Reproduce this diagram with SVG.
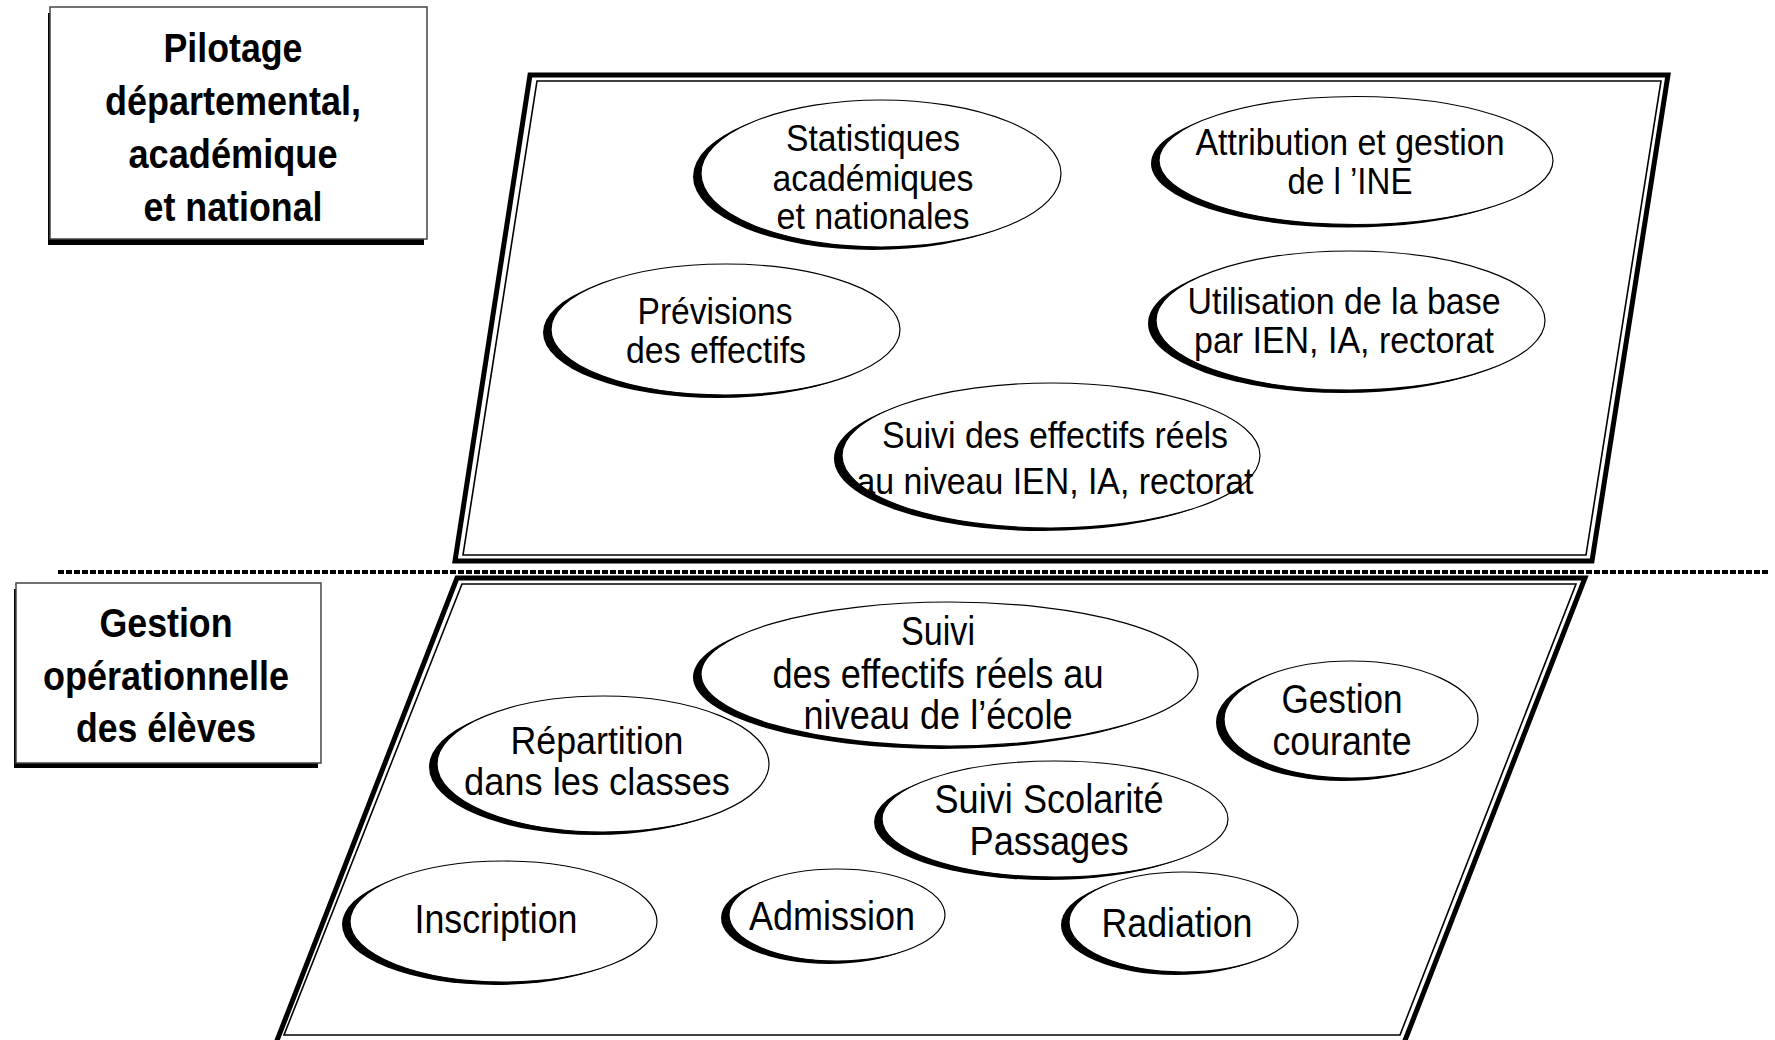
<svg xmlns="http://www.w3.org/2000/svg" width="1775" height="1040" viewBox="0 0 1775 1040">
<style>
.sh{fill:#000}
.el{fill:#fff;stroke:#000;stroke-width:1.2}
.t{font-family:"Liberation Sans",Arial,sans-serif;font-size:37px;text-anchor:middle;fill:#000}
.m{font-size:40px}
.r{font-size:39px}
.b{font-family:"Liberation Sans",Arial,sans-serif;font-size:40px;font-weight:bold;text-anchor:middle;fill:#000}
.box{fill:#fff;stroke:#444;stroke-width:1.5}
.outer{fill:none;stroke:#000;stroke-width:5;stroke-linejoin:miter}
.inner{fill:none;stroke:#000;stroke-width:1.6}
</style>
<rect width="1775" height="1040" fill="#fff"/>
<g id="connectors">
<polygon class="outer" points="530,75 1668,75 1592,561 455,561"/>
<polygon class="inner" points="537,81 1661,81 1586,555 463,555"/>
<polygon class="outer" points="457,578 1585,578 1404,1043 276,1043"/>
<polygon class="inner" points="462,584 1576,584 1400,1035 284,1035"/>
<line x1="58" y1="572" x2="1770" y2="572" stroke="#000" stroke-width="4" stroke-dasharray="6 2"/>
</g>
<g id="box-pilotage">
<rect class="sh" x="48" y="13" width="376" height="232"/>
<rect class="box" x="50" y="7" width="377" height="232"/>
<text class="b" x="233" y="62" textLength="139" lengthAdjust="spacingAndGlyphs">Pilotage</text>
<text class="b" x="233" y="115" textLength="256" lengthAdjust="spacingAndGlyphs">départemental,</text>
<text class="b" x="233" y="168" textLength="209" lengthAdjust="spacingAndGlyphs">académique</text>
<text class="b" x="233" y="221" textLength="179" lengthAdjust="spacingAndGlyphs">et national</text>
</g>
<g id="box-gestion">
<rect class="sh" x="14" y="589" width="304" height="179"/>
<rect class="box" x="16" y="583" width="305" height="180"/>
<text class="b" x="166" y="637" textLength="133" lengthAdjust="spacingAndGlyphs">Gestion</text>
<text class="b" x="166" y="690" textLength="246" lengthAdjust="spacingAndGlyphs">opérationnelle</text>
<text class="b" x="166" y="742" textLength="180" lengthAdjust="spacingAndGlyphs">des élèves</text>
</g>
<g id="n-statistiques">
<ellipse class="sh" cx="873" cy="176.5" rx="180" ry="73.5"/>
<ellipse class="el" cx="881" cy="173.5" rx="180" ry="73.5"/>
<text class="t" x="873" y="151" textLength="174" lengthAdjust="spacingAndGlyphs">Statistiques</text>
<text class="t" x="873" y="191" textLength="201" lengthAdjust="spacingAndGlyphs">académiques</text>
<text class="t" x="873" y="229" textLength="193" lengthAdjust="spacingAndGlyphs">et nationales</text>
</g>
<g id="n-attribution">
<ellipse class="sh" cx="1348" cy="163.5" rx="197" ry="64"/>
<ellipse class="el" cx="1356" cy="160.5" rx="197" ry="64"/>
<text class="t" x="1350" y="155" textLength="309" lengthAdjust="spacingAndGlyphs">Attribution et gestion</text>
<text class="t" x="1350" y="194" textLength="125" lengthAdjust="spacingAndGlyphs">de l ’INE</text>
</g>
<g id="n-previsions">
<ellipse class="sh" cx="717.5" cy="332.5" rx="174.5" ry="65.5"/>
<ellipse class="el" cx="725.5" cy="329.5" rx="174.5" ry="65.5"/>
<text class="t" x="715" y="324" textLength="155" lengthAdjust="spacingAndGlyphs">Prévisions</text>
<text class="t" x="716" y="363" textLength="180" lengthAdjust="spacingAndGlyphs">des effectifs</text>
</g>
<g id="n-utilisation">
<ellipse class="sh" cx="1342.5" cy="323.5" rx="194.5" ry="69.5"/>
<ellipse class="el" cx="1350.5" cy="320.5" rx="194.5" ry="69.5"/>
<text class="t" x="1344" y="314" textLength="313" lengthAdjust="spacingAndGlyphs">Utilisation de la base</text>
<text class="t" x="1344" y="353" textLength="300" lengthAdjust="spacingAndGlyphs">par IEN, IA, rectorat</text>
</g>
<g id="n-suivi-haut">
<ellipse class="sh" cx="1043" cy="458.5" rx="209" ry="72.5"/>
<ellipse class="el" cx="1051" cy="455.5" rx="209" ry="72.5"/>
<text class="t" x="1055" y="448" textLength="346" lengthAdjust="spacingAndGlyphs">Suivi des effectifs réels</text>
<text class="t" x="1055" y="494" textLength="397" lengthAdjust="spacingAndGlyphs">au niveau IEN, IA, rectorat</text>
</g>
<g id="n-suivi-ecole">
<ellipse class="sh" cx="941.5" cy="677" rx="248.5" ry="72"/>
<ellipse class="el" cx="949.5" cy="674" rx="248.5" ry="72"/>
<text class="t m" x="938" y="645" textLength="74" lengthAdjust="spacingAndGlyphs">Suivi</text>
<text class="t m" x="938" y="688" textLength="331" lengthAdjust="spacingAndGlyphs">des effectifs réels au</text>
<text class="t m" x="938" y="729" textLength="269" lengthAdjust="spacingAndGlyphs">niveau de l’école</text>
</g>
<g id="n-gestion-courante">
<ellipse class="sh" cx="1343" cy="722.5" rx="127" ry="58.5"/>
<ellipse class="el" cx="1351" cy="719.5" rx="127" ry="58.5"/>
<text class="t m" x="1342" y="713" textLength="121" lengthAdjust="spacingAndGlyphs">Gestion</text>
<text class="t m" x="1342" y="755" textLength="139" lengthAdjust="spacingAndGlyphs">courante</text>
</g>
<g id="n-repartition">
<ellipse class="sh" cx="595" cy="767" rx="166" ry="68"/>
<ellipse class="el" cx="603" cy="764" rx="166" ry="68"/>
<text class="t r" x="597" y="754" textLength="173" lengthAdjust="spacingAndGlyphs">Répartition</text>
<text class="t r" x="597" y="795" textLength="266" lengthAdjust="spacingAndGlyphs">dans les classes</text>
</g>
<g id="n-scolarite">
<ellipse class="sh" cx="1047" cy="822" rx="173" ry="58"/>
<ellipse class="el" cx="1055" cy="819" rx="173" ry="58"/>
<text class="t m" x="1049" y="813" textLength="229" lengthAdjust="spacingAndGlyphs">Suivi Scolarité</text>
<text class="t m" x="1049" y="855" textLength="159" lengthAdjust="spacingAndGlyphs">Passages</text>
</g>
<g id="n-inscription">
<ellipse class="sh" cx="495.5" cy="924.5" rx="153.5" ry="60.5"/>
<ellipse class="el" cx="503.5" cy="921.5" rx="153.5" ry="60.5"/>
<text class="t m" x="496" y="933" textLength="163" lengthAdjust="spacingAndGlyphs">Inscription</text>
</g>
<g id="n-admission">
<ellipse class="sh" cx="829" cy="918" rx="108" ry="46"/>
<ellipse class="el" cx="837" cy="915" rx="108" ry="46"/>
<text class="t m" x="832" y="930" textLength="166" lengthAdjust="spacingAndGlyphs">Admission</text>
</g>
<g id="n-radiation">
<ellipse class="sh" cx="1175.5" cy="925" rx="114.5" ry="50"/>
<ellipse class="el" cx="1183.5" cy="922" rx="114.5" ry="50"/>
<text class="t m" x="1177" y="937" textLength="151" lengthAdjust="spacingAndGlyphs">Radiation</text>
</g>
</svg>
